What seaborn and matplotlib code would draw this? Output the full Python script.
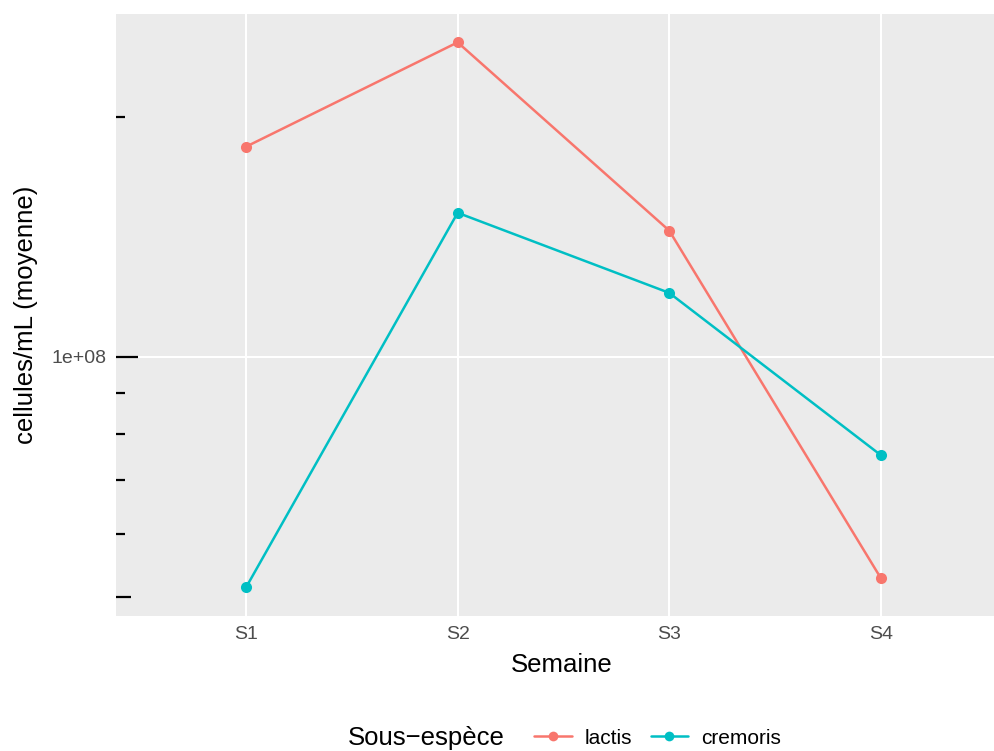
import pandas as pd
import seaborn as sns
import matplotlib.pyplot as plt

# donnees (moyennes cellules/mL)
semaines = ["S1", "S2", "S3", "S4"]
lactis = [1.835e8, 2.48e8, 1.44e8, 5.28e7]
cremoris = [5.14e7, 1.516e8, 1.203e8, 7.53e7]
sous_especes = ["lactis", "cremoris"]
couleurs = ["#F8766D", "#00BFC4"]

# graduations log (annotation_logticks)
logticks_long = [1e8]
logticks_mid = [5e7]
logticks_short = [6e7, 7e7, 8e7, 9e7, 2e8]

df = pd.DataFrame({
    "Semaine": semaines * 2,
    "valeur": lactis + cremoris,
    "Sous-espece": [sous_especes[0]] * 4 + [sous_especes[1]] * 4,
})

sns.set_theme(style="darkgrid")
plt.rcParams["font.family"] = ["Liberation Sans", "DejaVu Sans"]

fig = plt.figure(figsize=(9.95, 7.51), dpi=100)
ax = fig.add_axes([116 / 995, 135 / 751, 879 / 995, 602 / 751])
ax.set_facecolor("#EBEBEB")

sns.lineplot(data=df, x="Semaine", y="valeur", hue="Sous-espece",
             hue_order=sous_especes, palette=couleurs, marker="o",
             markersize=8, markeredgewidth=0, linewidth=1.8, ax=ax, legend=False)

ax.set_yscale("log")
ax.set_ylim(10 ** 7.675, 10 ** 8.43)
ax.set_xlim(-0.615, 3.54)

ax.set_yticks([1e8])
ax.set_yticklabels(["1e+08"])
ax.yaxis.set_minor_locator(plt.NullLocator())
ax.grid(True, which="major", color="white", linewidth=1.5)
ax.grid(False, which="minor")
ax.set_axisbelow(True)
for s in ax.spines.values():
    s.set_visible(False)

ax.tick_params(axis="both", which="major", length=4, width=1, color="#333333",
               labelcolor="#4D4D4D", labelsize=14, pad=3)

# ticks log en noir a l'interieur du panneau
tr = ax.get_yaxis_transform()
for vals, longueur in [(logticks_long, 22), (logticks_mid, 15), (logticks_short, 9)]:
    for v in vals:
        ax.plot([0, longueur / 879], [v, v], color="black", linewidth=1.6,
                transform=tr, clip_on=False, solid_capstyle="butt")

ax.set_xlabel("Semaine", fontsize=18.5, color="black")
ax.set_ylabel("cellules/mL (moyenne)", fontsize=18.5, color="black")
ax.xaxis.set_label_coords((562 - 116) / 879, -49 / 602)
ax.xaxis.label.set_va("center")
ax.yaxis.set_label_coords(-90 / 879, 0.5)
ax.yaxis.label.set_va("center")

# legende en bas, titre a gauche
fig.text(505 / 995, 1 - 738 / 751, "Sous\u2212espèce", fontsize=18.5,
         ha="right", va="center", color="black")
handles = [plt.Line2D([], [], color=c, marker="o", markersize=7, linewidth=1.8,
                      markeredgewidth=0) for c in couleurs]
leg = fig.legend(handles, sous_especes, loc="center left",
                 bbox_to_anchor=(524 / 995, 1 - 738 / 751), ncol=2, frameon=False,
                 borderpad=0, fontsize=15, handlelength=1.8, handletextpad=0.6,
                 columnspacing=0.9)
for t in leg.get_texts():
    t.set_color("black")

fig.savefig("out.png", dpi=100)
